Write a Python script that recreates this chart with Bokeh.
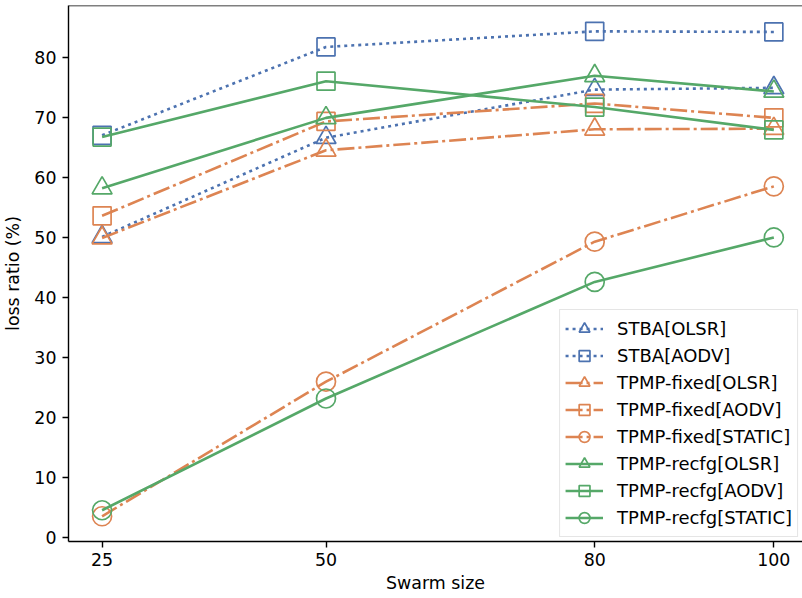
from bokeh.plotting import figure
from bokeh.models import Range1d, FixedTicker, Span
from bokeh.embed import file_html
from bokeh.resources import INLINE

swarm_sizes = [25, 50, 80, 100]
stba_olsr = [50.1, 66.6, 74.6, 74.9]
stba_aodv = [67.0, 81.7, 84.3, 84.2]
fixed_olsr = [49.9, 64.5, 68.0, 68.1]
fixed_aodv = [53.6, 69.3, 72.3, 69.9]
fixed_static = [3.6, 26.0, 49.3, 58.5]
recfg_olsr = [58.2, 69.9, 76.9, 74.3]
recfg_aodv = [66.7, 76.0, 71.7, 67.9]
recfg_static = [4.6, 23.2, 42.6, 50.0]
x_ticks = [25, 50, 80, 100]
y_ticks = [0, 10, 20, 30, 40, 50, 60, 70, 80]

BLUE, ORANGE, GREEN = "#4C72B0", "#DD8452", "#55A868"
DOT, DASHDOT, SOLID = "3 4", "17 4 3 4", "solid"
FONT = "DejaVu Sans"
FS = "17.4px"

series = [
    ("STBA[OLSR]", stba_olsr, BLUE, DOT, "triangle"),
    ("STBA[AODV]", stba_aodv, BLUE, DOT, "square"),
    ("TPMP-fixed[OLSR]", fixed_olsr, ORANGE, DASHDOT, "triangle"),
    ("TPMP-fixed[AODV]", fixed_aodv, ORANGE, DASHDOT, "square"),
    ("TPMP-fixed[STATIC]", fixed_static, ORANGE, DASHDOT, "circle"),
    ("TPMP-recfg[OLSR]", recfg_olsr, GREEN, SOLID, "triangle"),
    ("TPMP-recfg[AODV]", recfg_aodv, GREEN, SOLID, "square"),
    ("TPMP-recfg[STATIC]", recfg_static, GREEN, SOLID, "circle"),
]
marker_size = {"triangle": 20, "square": 18, "circle": 19}

p = figure(width=802, height=598, output_backend="svg", toolbar_location=None,
           x_range=Range1d(21.25, 103.2), y_range=Range1d(-0.6, 88.6),
           min_border_left=67, min_border_right=0, min_border_top=5, min_border_bottom=57)
p.outline_line_color = None
p.grid.visible = False
p.background_fill_color = "white"
p.border_fill_color = "white"

for label, vals, color, dash, marker in series:
    p.line(swarm_sizes, vals, line_color=color, line_width=2.6, line_dash=dash,
           line_cap="butt", legend_label=label)
    p.scatter(swarm_sizes, vals, marker=marker, size=marker_size[marker],
              fill_color=None, line_color=color, line_width=1.7, legend_label=label)

top = Span(location=p.y_range.end, dimension="width", line_color="black", line_width=1.4)
p.add_layout(top)

for ax in (p.xaxis[0], p.yaxis[0]):
    ax.axis_line_color = "black"
    ax.axis_line_width = 1.4
    ax.major_tick_line_color = "black"
    ax.major_tick_line_width = 1.4
    ax.major_tick_out = 6
    ax.major_tick_in = 0
    ax.minor_tick_line_color = None
    ax.major_label_text_font = FONT
    ax.major_label_text_font_size = FS
    ax.major_label_text_color = "black"
    ax.axis_label_text_font = FONT
    ax.axis_label_text_font_size = FS
    ax.axis_label_text_font_style = "normal"
    ax.axis_label_text_color = "black"

p.xaxis[0].ticker = FixedTicker(ticks=x_ticks)
p.yaxis[0].ticker = FixedTicker(ticks=y_ticks)
p.xaxis[0].axis_label = "Swarm size"
p.yaxis[0].axis_label = "loss ratio (%)"
p.xaxis[0].major_label_standoff = 5
p.xaxis[0].axis_label_standoff = 4
p.yaxis[0].major_label_standoff = 6
p.yaxis[0].axis_label_standoff = 8

lg = p.legend[0]
lg.location = "bottom_right"
lg.margin = 4
lg.padding = 5
lg.spacing = 0
lg.glyph_width = 38
lg.glyph_height = 27
lg.label_height = 27
lg.label_standoff = 14
lg.label_text_font = FONT
lg.label_text_font_size = "18px"
lg.label_text_color = "black"
lg.border_line_color = "#cccccc"
lg.border_line_width = 1
lg.background_fill_alpha = 0.8

open("out.html", "w").write(file_html(p, INLINE))
